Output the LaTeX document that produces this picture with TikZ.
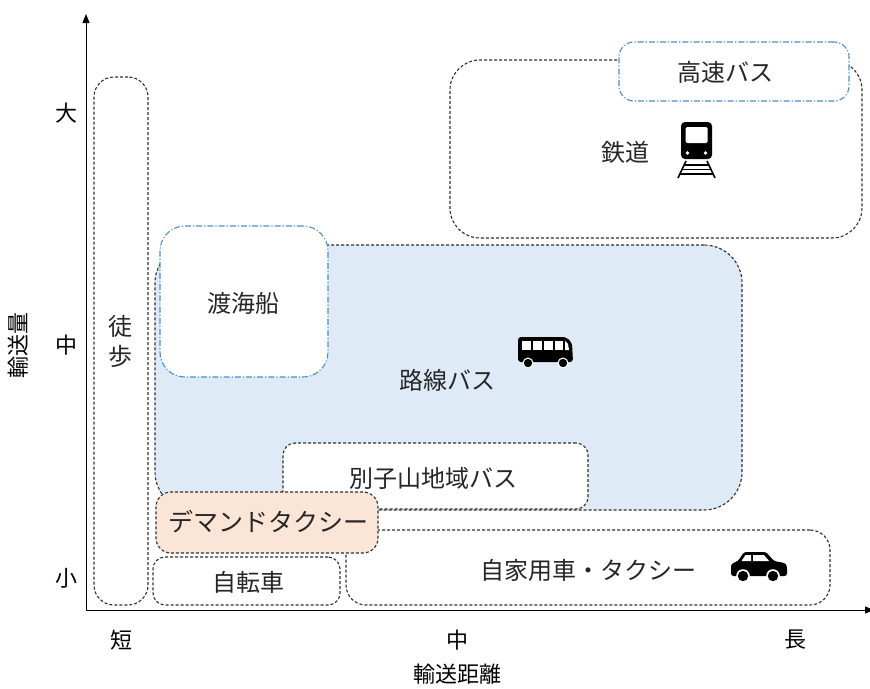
\documentclass[tikz,border=0pt]{standalone}
\usepackage{fontspec}
\setmainfont{Noto Sans CJK JP}
\usetikzlibrary{arrows.meta}
\definecolor{dashgray}{HTML}{303030}
\definecolor{dotblue}{HTML}{4A8FD0}
\definecolor{paleblue}{HTML}{DEEBF7}
\definecolor{peach}{HTML}{FBE5D6}
\tikzset{
  gbox/.style={draw=dashgray, line width=1.1pt, dash pattern=on 3pt off 2pt, inner sep=0pt},
  bbox/.style={draw=dotblue, line width=1.1pt, dash pattern=on 6pt off 2pt on 1.2pt off 2pt, inner sep=0pt, fill=white},
  lbl/.style={font=\fontsize{24}{26}\selectfont, inner sep=0pt, text=black!85},
  axl/.style={font=\fontsize{22}{24}\selectfont, inner sep=0pt},
  axis/.style={line width=0.9pt, black}
}
\begin{document}
\begin{tikzpicture}[x=1pt,y=-1pt]
\useasboundingbox (0,0) rectangle (870,688);
% axes
\coordinate (O) at (86,610);
\coordinate (Ytop) at (86,14);
\coordinate (Xend) at (874,610);
\draw[axis, -{Triangle[length=9pt,width=7pt]}] (O) -- (Ytop);
\draw[axis, -{Triangle[length=9pt,width=7pt]}] (O) -- (Xend);
% axis labels
\node[axl] (ybig) at (66,113) {大};
\node[axl] (ymid) at (66,345) {中};
\node[axl] (ysmall) at (66,578) {小};
\node[axl, rotate=90] (ytitle) at (18,345) {輸送量};
\node[axl] (xshort) at (121,640) {短};
\node[axl] (xmid) at (457,640) {中};
\node[axl] (xlong) at (795,640) {長};
\node[axl] (xtitle) at (457,674) {輸送距離};
% boxes
\node[gbox, rounded corners=20pt, minimum width=54pt, minimum height=528pt] (toho) at (121,341) {};
\node[lbl, align=center] (tohol) at (120,341) {徒\\[4pt]歩};
\node[gbox, rounded corners=30pt, minimum width=412pt, minimum height=178pt] (tetsudo) at (656,149) {};
\node[bbox, rounded corners=15pt, minimum width=230pt, minimum height=59pt] (kosoku) at (734,71.5) {};
\node[lbl] (kosokul) at (725,72) {高速バス};
\node[lbl] (tetsudol) at (625,152) {鉄道};
\node[gbox, fill=paleblue, rounded corners=38pt, minimum width=587pt, minimum height=265pt] (rosen) at (448.5,377.5) {};
\node[bbox, rounded corners=25pt, minimum width=168pt, minimum height=151pt] (tokai) at (244,301.5) {};
\node[lbl] (tokail) at (243,303) {渡海船};
\node[lbl] (rosenl) at (447,380) {路線バス};
\node[gbox, fill=white, rounded corners=12pt, minimum width=305pt, minimum height=66pt] (besshi) at (435.5,476) {};
\node[lbl] (besshil) at (433,478) {別子山地域バス};
\node[gbox, fill=white, rounded corners=20pt, minimum width=484pt, minimum height=75pt] (jika) at (588,567.5) {};
\node[lbl] (jikal) at (588,570) {自家用車・タクシー};
\node[gbox, fill=peach, rounded corners=15pt, minimum width=222pt, minimum height=61pt] (demand) at (267,522.5) {};
\node[lbl, font=\fontsize{25}{27}\selectfont] (demandl) at (268,522) {デマンドタクシー};
\node[gbox, fill=white, rounded corners=12pt, minimum width=187pt, minimum height=48pt] (jitensha) at (246.5,581) {};
\node[lbl] (jitenshal) at (248,582) {自転車};
% train icon
\fill[black, rounded corners=4pt] (681,122) rectangle (712,159);
\fill[white, rounded corners=1.5pt] (685.5,127) rectangle (707.5,143);
\fill[white] (687.5,153) circle (1.8pt);
\fill[white] (705.5,153) circle (1.8pt);
\draw[black, line width=1.6pt] (686,161) -- (678,178) (707,161) -- (715,178);
\foreach \yy in {165, 169.5, 174} {
  \draw[black, line width=1.4pt] ({686-(\yy-161)*8/17},\yy) -- ({707+(\yy-161)*8/17},\yy);
}
% bus icon
\fill[black, rounded corners=3pt] (518,337) -- (566,337) -- (572,343) -- (573,362) -- (518,362) -- cycle;
\foreach \xa in {522,533,544} {\fill[white] (\xa,341) rectangle ++(9,9);}
\fill[white] (555,341) rectangle (563,350);
\fill[white] (565,341) -- (568,344) -- (569,350) -- (565,350) -- cycle;
\fill[white] (528,363) circle (5.5pt);
\fill[black] (528,363) circle (4.2pt);
\fill[white] (563,363) circle (5.5pt);
\fill[black] (563,363) circle (4.2pt);
% car icon
\fill[black, rounded corners=2.5pt] (731,564) -- (738,561) -- (744,552) -- (766,552) -- (774,561) -- (785,563) -- (787,566) -- (787,576) -- (731,576) -- cycle;
\fill[white] (745.5,555) -- (751,555) -- (751,561) -- (741.5,561) -- cycle;
\fill[white] (753,555) -- (764,555) -- (769,561) -- (753,561) -- cycle;
\fill[white] (743,576) circle (6.8pt);
\fill[black] (743,576) circle (5.2pt);
\fill[white] (773,576) circle (6.8pt);
\fill[black] (773,576) circle (5.2pt);
\end{tikzpicture}
\end{document}
